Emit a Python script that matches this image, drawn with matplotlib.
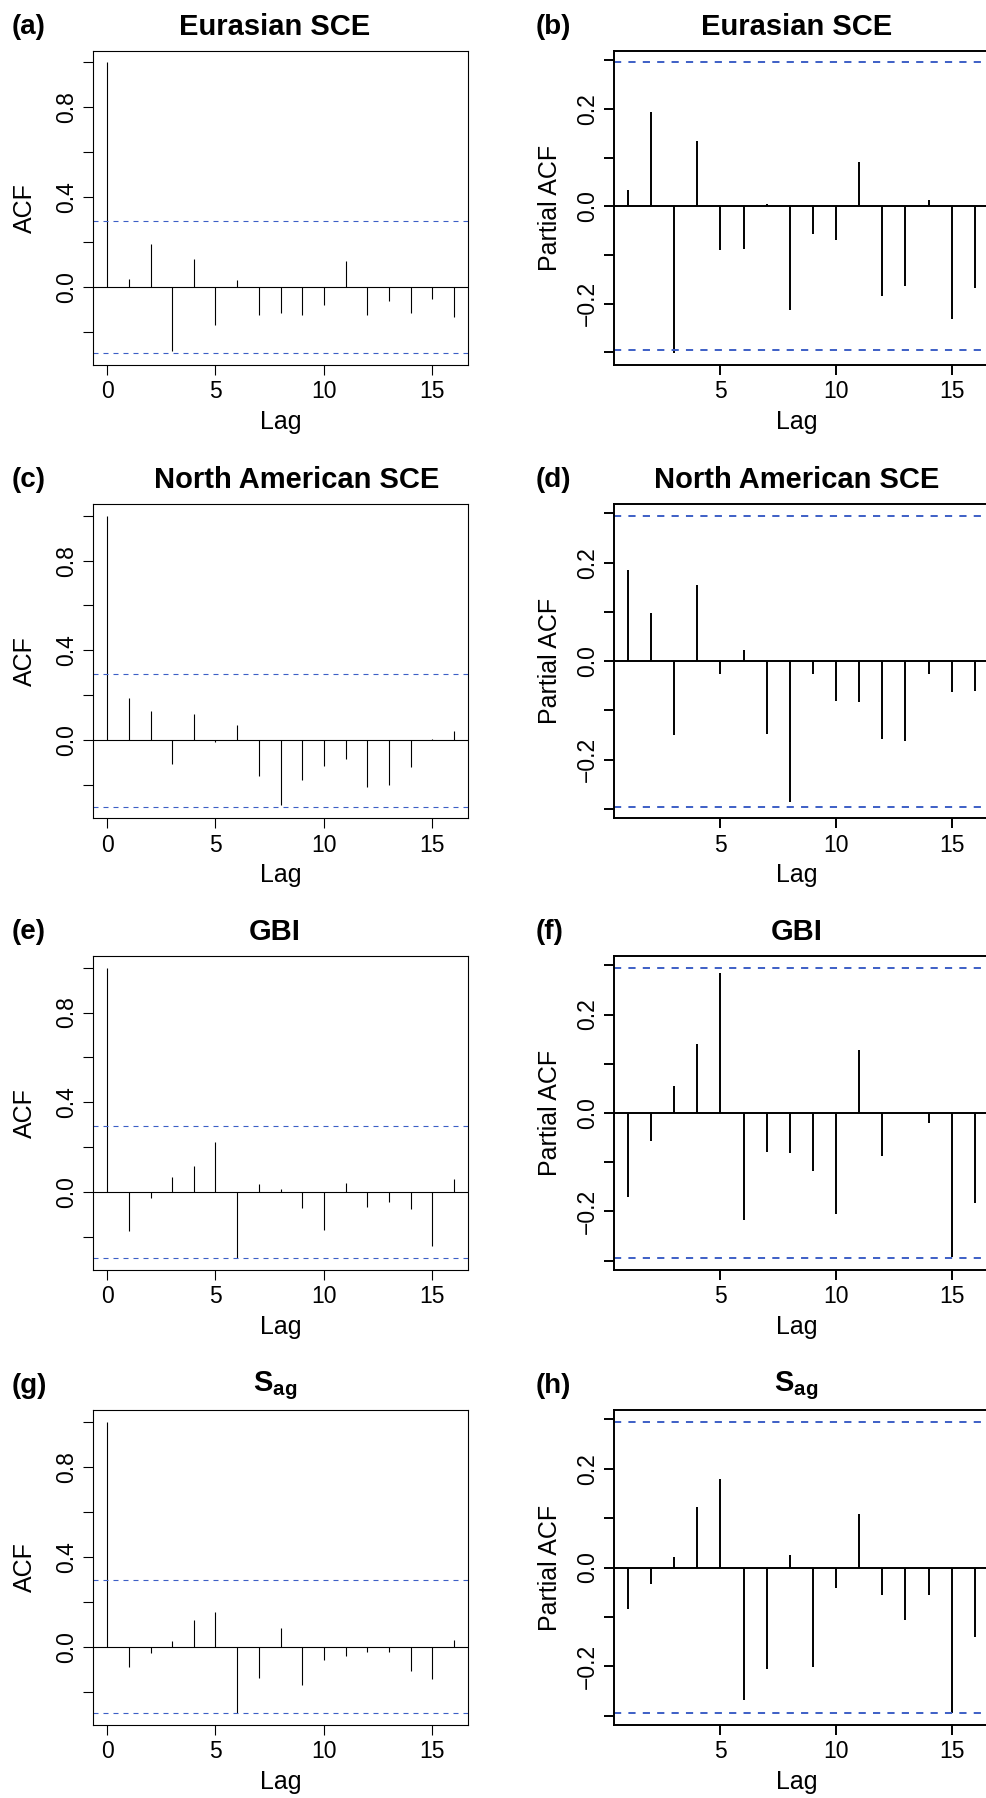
import matplotlib
matplotlib.use("Agg")
import matplotlib.pyplot as plt
import numpy as np

plt.rcParams["font.family"] = ["Liberation Sans", "DejaVu Sans"]
plt.rcParams["mathtext.fontset"] = "custom"
plt.rcParams["mathtext.rm"] = "Liberation Sans"
plt.rcParams["mathtext.bf"] = "Liberation Sans:bold"

# ---- data ----
ci = 1.96 / np.sqrt(44)   # dashed significance bounds

acf_lags = np.arange(0, 17)
pacf_lags = np.arange(1, 17)

acf_eurasian = [1.0, 0.034, 0.193, -0.283, 0.124, -0.168, 0.031, -0.124, -0.116,
                -0.126, -0.082, 0.115, -0.126, -0.064, -0.115, -0.052, -0.134]
pacf_eurasian = [0.033, 0.193, -0.302, 0.135, -0.089, -0.087, 0.005, -0.213,
                 -0.057, -0.070, 0.090, -0.184, -0.163, 0.012, -0.232, -0.167]

acf_namerica = [1.0, 0.187, 0.131, -0.104, 0.117, -0.006, 0.067, -0.157, -0.286,
                -0.175, -0.113, -0.085, -0.209, -0.199, -0.117, 0.004, 0.043]
pacf_namerica = [0.186, 0.098, -0.150, 0.155, -0.027, 0.023, -0.148, -0.287,
                 -0.027, -0.081, -0.083, -0.159, -0.162, -0.027, -0.062, -0.061]

acf_gbi = [1.0, -0.173, -0.028, 0.067, 0.116, 0.222, -0.294, 0.034, 0.013,
           -0.069, -0.168, 0.040, -0.066, -0.045, -0.075, -0.241, 0.060]
pacf_gbi = [-0.170, -0.056, 0.055, 0.140, 0.285, -0.218, -0.080, -0.081,
            -0.117, -0.205, 0.129, -0.087, 0.001, -0.020, -0.292, -0.182]

acf_sag = [1.0, -0.088, -0.027, 0.025, 0.119, 0.155, -0.294, -0.137, 0.082,
           -0.171, -0.059, -0.039, -0.024, -0.022, -0.107, -0.141, 0.030]
pacf_sag = [-0.085, -0.033, 0.021, 0.122, 0.180, -0.268, -0.206, 0.025,
            -0.201, -0.041, 0.109, -0.056, -0.106, -0.055, -0.295, -0.140]

titles = ["Eurasian SCE", "North American SCE", "GBI", r"$\mathbf{S}_{\mathbf{ag}}$"]
acf_series = [acf_eurasian, acf_namerica, acf_gbi, acf_sag]
pacf_series = [pacf_eurasian, pacf_namerica, pacf_gbi, pacf_sag]
panel_labels = [("(a)", "(b)"), ("(c)", "(d)"), ("(e)", "(f)"), ("(g)", "(h)")]

# ---- layout (pixels) ----
W, H = 986, 1798
fig = plt.figure(figsize=(W / 100, H / 100), dpi=100)

rows_px = [(50.7, 365), (504, 818.3), (956, 1270), (1410, 1725)]
left_x = (93.3, 467.7)
right_x = (614, 988.7)
left_title_x = [275, 297, 275, 275]
right_title_x = 796.5

blue = "#3d5fc6"


def px_rect(x0, x1, top, bottom):
    return [x0 / W, 1 - bottom / H, (x1 - x0) / W, (bottom - top) / H]


def draw_corr(ax, lags, vals, lw, dash, is_acf):
    vals = np.asarray(vals)
    ax.vlines(lags, 0, vals, color="black", lw=lw)
    ax.axhline(0, color="black", lw=lw)
    ax.axhline(ci, color=blue, lw=lw, ls=(0, dash))
    ax.axhline(-ci, color=blue, lw=lw, ls=(0, dash))

    lo = min(-ci, vals.min())
    hi = max(ci, vals.max())
    pad = 0.04 * (hi - lo)
    ax.set_ylim(lo - pad, hi + pad)
    lx = lags.max() - lags.min()
    ax.set_xlim(lags.min() - 0.04 * lx, lags.max() + 0.04 * lx)

    if is_acf:
        yt = np.round(np.arange(-0.2, 1.01, 0.2), 1)
        ax.set_yticks(yt)
        ax.set_yticklabels([f"{v:.1f}" if round(v * 10) % 4 == 0 else "" for v in yt])
        ax.set_xticks([0, 5, 10, 15])
        ax.set_ylabel("ACF", fontsize=18)
        ax.yaxis.set_label_coords(-68 / 374.4, 0.5)
    else:
        yt = np.round(np.arange(-0.3, 0.31, 0.1), 1)
        ax.set_yticks(yt)
        ax.set_yticklabels([f"{v:.1f}".replace("-", "\u2212") if round(v * 10) % 2 == 0 else "" for v in yt])
        ax.set_xticks([5, 10, 15])
        ax.set_ylabel("Partial ACF", fontsize=18)
        ax.yaxis.set_label_coords(-64 / 374.7, 0.5)

    ax.set_xlabel("Lag", fontsize=18)
    ax.xaxis.set_label_coords(0.5 if is_acf else (796.5 - 614) / 374.7, -57 / 314)
    ax.xaxis.label.set_va("center")
    ax.yaxis.label.set_va("center")

    ax.tick_params(axis="both", length=7, width=lw, labelsize=16.5, pad=4)
    ax.tick_params(axis="y", labelrotation=90)
    for lab in ax.get_yticklabels():
        lab.set_va("center")
    for s in ax.spines.values():
        s.set_linewidth(lw)


for i in range(4):
    top, bottom = rows_px[i]

    ax_l = fig.add_axes(px_rect(left_x[0], left_x[1], top, bottom))
    draw_corr(ax_l, acf_lags, acf_series[i], 0.8, (4.5, 4.5), True)

    ax_r = fig.add_axes(px_rect(right_x[0], right_x[1], top, bottom))
    draw_corr(ax_r, pacf_lags, pacf_series[i], 1.4, (3.7, 3.7), False)

    ty = 1 - (top - 24) / H
    fig.text(left_title_x[i] / W, ty, titles[i], ha="center", va="center",
             fontsize=21, fontweight="bold")
    fig.text(right_title_x / W, ty, titles[i], ha="center", va="center",
             fontsize=21, fontweight="bold")
    fig.text(12 / W, ty, panel_labels[i][0], ha="left", va="center",
             fontsize=20, fontweight="bold")
    fig.text(536 / W, ty, panel_labels[i][1], ha="left", va="center",
             fontsize=20, fontweight="bold")

fig.savefig("out.png", dpi=100)
